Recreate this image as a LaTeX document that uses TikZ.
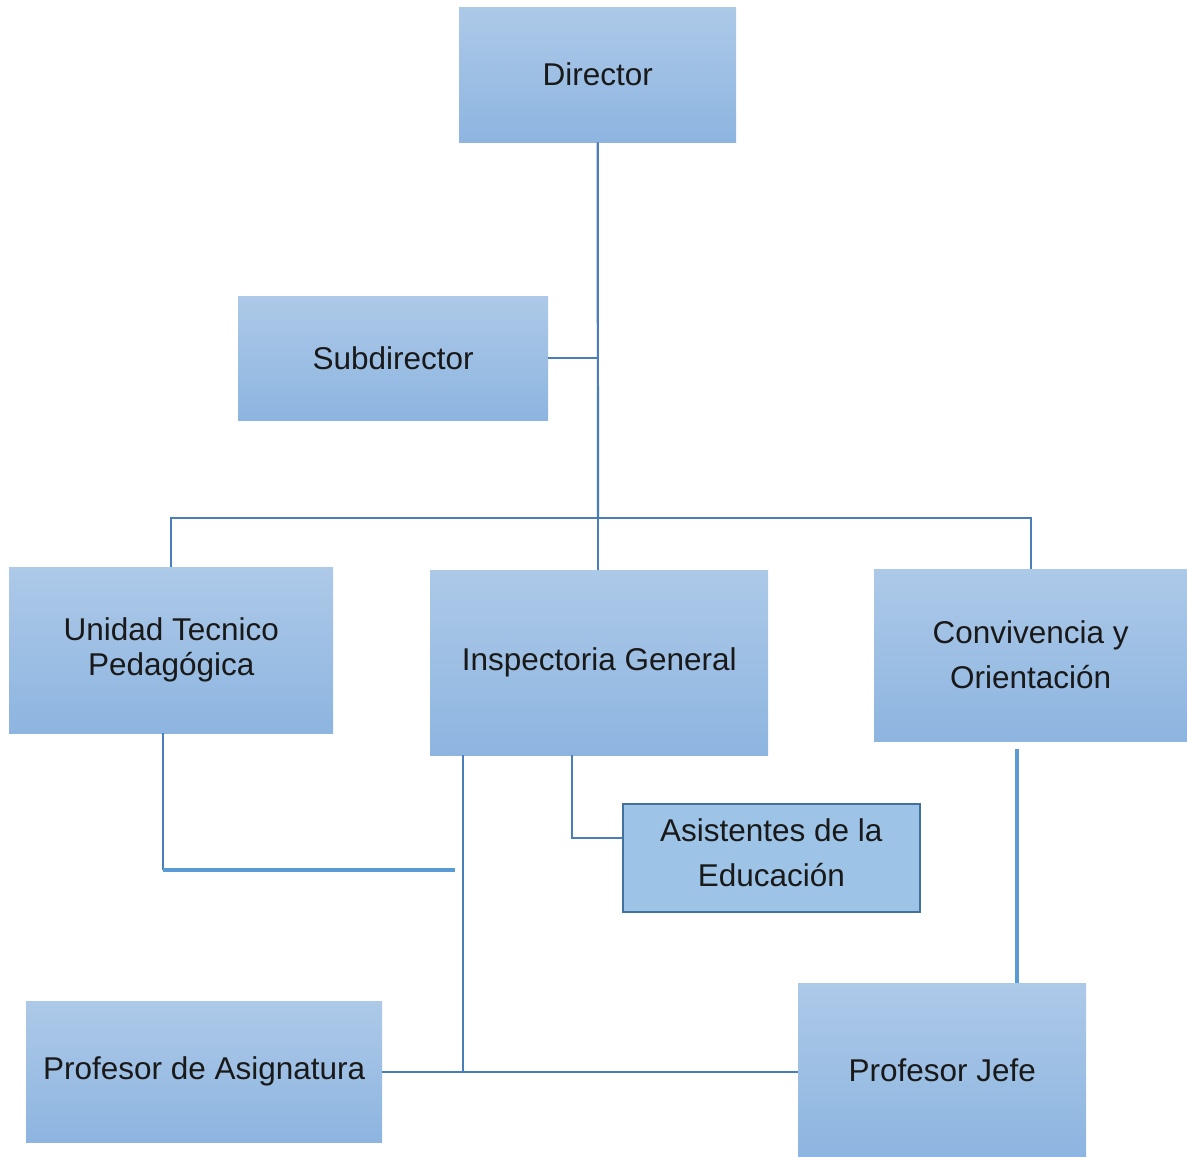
\documentclass[tikz,border=0pt]{standalone}
\usepackage{fontspec}
\setmainfont{Liberation Sans}
\begin{document}
\begin{tikzpicture}[x=1pt,y=-1pt,
  gbox/.style={anchor=north west, inner sep=0pt, draw=none,
    top color=boxtop, bottom color=boxbot, align=center,
    font=\fontsize{31.5}{45}\selectfont, text=black!90},
  conn/.style={draw=linedark, line width=2.2pt},
  connlight/.style={draw=linelight, line width=4pt}
]
\definecolor{boxtop}{HTML}{ADC9E8}
\definecolor{boxbot}{HTML}{8DB5E0}
\definecolor{linedark}{HTML}{4A7EBB}
\definecolor{linelight}{HTML}{5B9BD5}
\definecolor{asifill}{HTML}{9DC3E6}
\definecolor{asiline}{HTML}{41719C}
\useasboundingbox (0,0) rectangle (1187,1157);
\fill[white] (0,0) rectangle (1187,1157);

\node[gbox, minimum width=277pt, minimum height=135pt] (dir) at (459,7) {Director};
\node[gbox, minimum width=310pt, minimum height=124pt] (sub) at (238,296) {Subdirector};
\node[gbox, minimum width=324pt, minimum height=166pt, font=\fontsize{31.5}{35}\selectfont] (utp) at (9,567) {Unidad Tecnico\\Pedagógica};
\node[gbox, minimum width=338pt, minimum height=185pt] (ig) at (430,570) {Inspectoria General};
\node[gbox, minimum width=313pt, minimum height=172pt] (conv) at (874,569) {Convivencia y\\Orientación};
\node[anchor=north west, inner sep=0pt, minimum width=297pt, minimum height=108pt,
  fill=asifill, draw=asiline, line width=1.6pt, align=center,
  font=\fontsize{31.5}{45}\selectfont, text=black!90] (asi) at (622,803) {Asistentes de la\\Educación\rule[-10pt]{0pt}{1pt}};
\node[gbox, minimum width=356pt, minimum height=141pt] (pa) at (26,1001) {Profesor de Asignatura};
\node[gbox, minimum width=288pt, minimum height=174pt] (pj) at (798,983) {Profesor Jefe};

\coordinate (j1) at (598,518);
\coordinate (k1) at (163,870);
\coordinate (k1e) at (455,870);
\coordinate (k2) at (463,1072);
\coordinate (k4) at (572,838);
\coordinate (k5) at (1017,749);

\draw[conn] (dir.south) -- (j1);
\draw[conn] (sub.east) -- (sub.east -| j1);
\draw[conn] (j1) -| (utp.north);
\draw[conn] (j1) -| (conv.north);
\draw[conn] (j1) -- (j1 |- ig.north);
\draw[conn] (k1 |- utp.south) -- (k1);
\draw[connlight] (k1) -- (k1e);
\draw[conn] (k2 |- ig.south) -- (k2);
\draw[conn] (pa.east |- k2) -- (pj.west |- k2);
\draw[conn] (k4 |- ig.south) -- (k4) -- (asi.west |- k4);
\draw[connlight] (k5) -- (k5 |- pj.north);
\end{tikzpicture}
\end{document}
